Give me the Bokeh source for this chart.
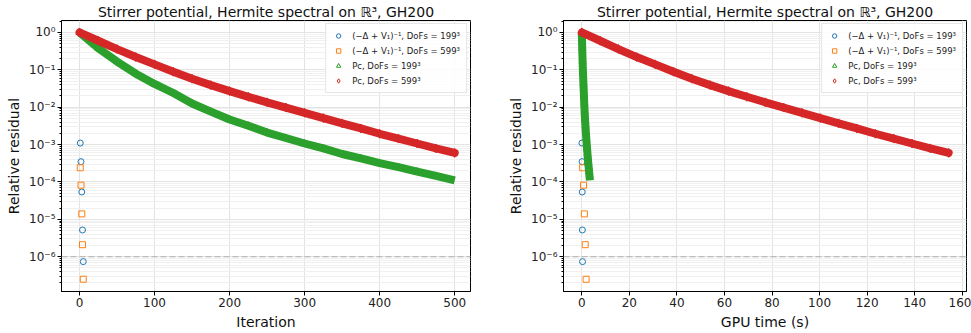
from bokeh.plotting import figure
from bokeh.models import (FixedTicker, CustomJSTickFormatter, Span, Legend,
                          LegendItem, Range1d)
from bokeh.layouts import row
from bokeh.embed import file_html
from bokeh.resources import INLINE

# ---------------- data ----------------
title_text = "Stirrer potential, Hermite spectral on \u211d\u00b3, GH200"

# Direct preconditioner (-Delta + V1)^-1
direct_iters = [1, 2, 3, 4, 5]
direct199_res = [1.1e-3, 3.5e-4, 5.4e-5, 5.2e-6, 7.4e-7]
direct599_res = [2.4e-4, 8.2e-5, 1.4e-5, 2.1e-6, 2.5e-7]
direct199_time = [0.06, 0.12, 0.18, 0.24, 0.30]
direct599_time = [0.36, 0.72, 1.08, 1.44, 1.80]

# P_C preconditioner
pc_iters = [0, 25, 50, 75, 100, 125, 150, 175, 200, 225, 250, 275, 300,
            325, 350, 375, 400, 425, 450, 475, 500]
pc199_res = [1.0, 0.38, 0.166, 0.079, 0.042, 0.024, 0.0126, 0.0076, 0.0047,
             0.0032, 0.0021, 0.0015, 0.00107, 0.00079, 0.00056, 0.00043,
             0.00032, 0.00025, 0.00019, 0.000145, 0.00011]
pc599_res = [1.0, 0.60, 0.36, 0.22, 0.14, 0.089, 0.058, 0.039, 0.027, 0.019,
             0.0135, 0.0098, 0.0071, 0.0051, 0.0037, 0.0027, 0.00195,
             0.00145, 0.00107, 0.00079, 0.0006]
pc199_time = [0.0, 0.17, 0.34, 0.51, 0.68, 0.85, 1.02, 1.19, 1.36, 1.53,
              1.70, 1.87, 2.04, 2.21, 2.38, 2.55, 2.72, 2.89, 3.06, 3.23, 3.40]
pc599_time = [0.0, 7.7, 15.4, 23.1, 30.9, 38.6, 46.3, 54.0, 61.7, 69.4,
              77.2, 84.9, 92.6, 100.3, 108.0, 115.7, 123.5, 131.2, 138.9,
              146.6, 154.3]

tol = 1e-6
labels = ["(\u2212\u0394 + V\u2081)\u207b\u00b9, DoFs = 199\u00b3",
          "(\u2212\u0394 + V\u2081)\u207b\u00b9, DoFs = 599\u00b3",
          "P\u1d04, DoFs = 199\u00b3",
          "P\u1d04, DoFs = 599\u00b3"]
y_major = [1e-6, 1e-5, 1e-4, 1e-3, 1e-2, 1e-1, 1.0]

BLUE, ORANGE, GREEN, RED = "#1f77b4", "#ff7f0e", "#2ca02c", "#d62728"
FONT = "DejaVu Sans"

y_minor = []
for e in range(-7, 1):
    for m in range(2, 10):
        y_minor.append(m * 10.0 ** e)

fmt = CustomJSTickFormatter(code="""
const e = Math.round(Math.log10(tick));
const sup = {'-':'\u207b','0':'\u2070','1':'\u00b9','2':'\u00b2','3':'\u00b3',
             '4':'\u2074','5':'\u2075','6':'\u2076','7':'\u2077','8':'\u2078','9':'\u2079'};
return '10' + String(e).split('').map(c => sup[c]).join('');
""")


def make_fig(xs_direct199, xs_direct599, xs_pc199, xs_pc599, xrange, xticks,
             xlabel, width, left, right):
    p = figure(width=width, height=333, y_axis_type="log",
               x_range=Range1d(*xrange),
               y_range=Range1d(10 ** -6.93, 10 ** 0.32),
               output_backend="svg", toolbar_location=None,
               min_border_left=left, min_border_right=right,
               min_border_top=19, min_border_bottom=42)
    p.title.text = title_text
    p.title.align = "center"
    p.title.text_font = FONT
    p.title.text_font_size = "14px"
    p.title.text_font_style = "normal"
    p.title.text_color = "#111111"
    p.title.standoff = 2

    p.outline_line_color = "black"
    p.outline_line_width = 1

    r_d199 = p.scatter(xs_direct199, direct199_res, marker="circle", size=6,
                       fill_color=None, line_color=BLUE, line_width=1)
    r_d599 = p.scatter(xs_direct599, direct599_res, marker="square", size=6,
                       fill_color=None, line_color=ORANGE, line_width=1)
    p.line(xs_pc199, pc199_res, line_color=GREEN, line_width=8,
           line_join="round")
    r_p199 = p.scatter(xs_pc199[:-1], pc199_res[:-1], marker="triangle",
                       size=7, fill_color=None, line_color=GREEN,
                       line_width=1)
    p.line(xs_pc599, pc599_res, line_color=RED, line_width=8,
           line_join="round", line_cap="round")
    r_p599 = p.scatter(xs_pc599, pc599_res, marker="diamond", size=9,
                       fill_color=None, line_color=RED, line_width=1)

    p.add_layout(Span(location=tol, dimension="width", line_color="#b0b0b0",
                      line_dash="6 3", line_width=1.2))

    # axes
    p.xaxis.ticker = FixedTicker(ticks=xticks)
    p.yaxis.ticker = FixedTicker(ticks=y_major, minor_ticks=y_minor)
    p.yaxis.formatter = fmt
    for ax in (p.xaxis[0], p.yaxis[0]):
        ax.major_label_text_font = FONT
        ax.major_label_text_font_size = "12px"
        ax.major_label_text_color = "#222222"
        ax.axis_label_text_font = FONT
        ax.axis_label_text_font_size = "14px"
        ax.axis_label_text_font_style = "normal"
        ax.axis_label_text_color = "#111111"
        ax.major_tick_in = 0
        ax.major_tick_out = 4
        ax.minor_tick_in = 0
        ax.minor_tick_out = 2
        ax.axis_line_color = "black"
        ax.major_tick_line_color = "black"
        ax.minor_tick_line_color = "black"
        ax.major_label_standoff = 2
        ax.axis_label_standoff = 4
    p.xaxis.minor_tick_line_color = None
    p.xaxis.axis_label = xlabel
    p.yaxis.axis_label = "Relative residual"

    p.xgrid.grid_line_color = "#e3e3e3"
    p.ygrid.grid_line_color = "#e3e3e3"
    p.ygrid.minor_grid_line_color = "#f0f0f0"

    legend = Legend(items=[LegendItem(label=labels[0], renderers=[r_d199]),
                           LegendItem(label=labels[1], renderers=[r_d599]),
                           LegendItem(label=labels[2], renderers=[r_p199]),
                           LegendItem(label=labels[3], renderers=[r_p599])],
                    location="top_right")
    legend.label_text_font = FONT
    legend.label_text_font_size = "8.5px"
    legend.label_text_color = "#222222"
    legend.label_height = 11
    legend.label_standoff = 8
    legend.glyph_height = 11
    legend.glyph_width = 12
    legend.spacing = 4
    legend.padding = 6
    legend.margin = 3
    legend.border_line_color = "#cccccc"
    legend.background_fill_alpha = 0.85
    p.add_layout(legend)
    return p


p1 = make_fig(direct_iters, direct_iters, pc_iters, pc_iters, (-24, 521),
              [0, 100, 200, 300, 400, 500], "Iteration", 490, 61, 20)
p2 = make_fig(direct199_time, direct599_time, pc199_time, pc599_time,
              (-7.7, 161.8), [0, 20, 40, 60, 80, 100, 120, 140, 160],
              "GPU time (s)", 481, 73, 5)

layout = row(p1, p2)
open("out.html", "w").write(file_html(layout, INLINE))
